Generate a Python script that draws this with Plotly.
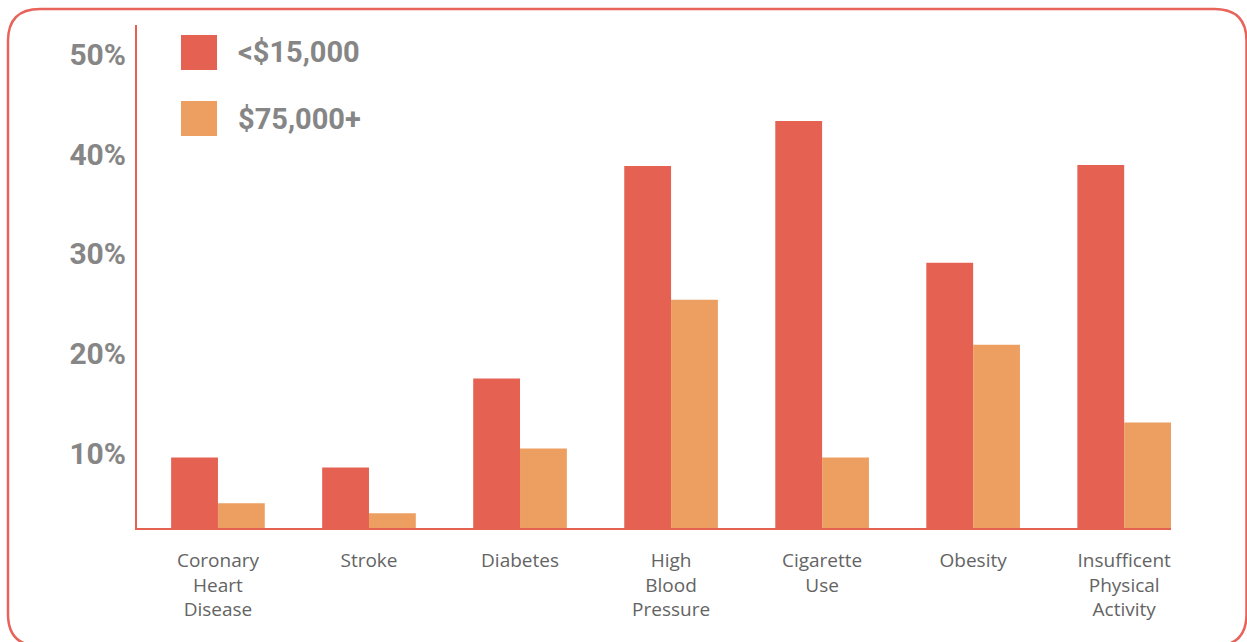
import plotly.graph_objects as go

# Share of adults affected, by household income
categories = ["Coronary<br>Heart<br>Disease", "Stroke", "Diabetes", "High<br>Blood<br>Pressure",
              "Cigarette<br>Use", "Obesity", "Insufficent<br>Physical<br>Activity"]
low_income = [9.6, 8.6, 17.5, 38.8, 43.3, 29.1, 38.9]
high_income = [5.0, 4.0, 10.5, 25.4, 9.6, 20.9, 13.1]
series_names = ["<$15,000", "$75,000+"]
tick_values = [10, 20, 30, 40, 50]
tick_labels = ["10%", "20%", "30%", "40%", "50%"]

RED = "#E56252"
ORANGE = "#EC9F60"
GREY = "#868686"
LABEL_GREY = "#646464"

W, H = 1247, 642
L, R, T, B = 137, 76, 25, 114
PW, PH = W - L - R, H - T - B


def px(x):
    return (x - L) / PW


def py(y):
    return (H - B - y) / PH


fig = go.Figure()
fig.add_trace(go.Bar(x=list(range(len(categories))), y=low_income, name=series_names[0],
                     marker=dict(color=RED, line=dict(width=0)), showlegend=False))
fig.add_trace(go.Bar(x=list(range(len(categories))), y=high_income, name=series_names[1],
                     marker=dict(color=ORANGE, line=dict(width=0)), showlegend=False))

# Rounded frame around the whole graphic
x0, x1, y0, y1, r = px(8), px(1246.5), py(9), py(646), 32
rx, ry = r / PW, r / PH
frame = (f"M {x0 + rx} {y0} L {x1 - rx} {y0} Q {x1} {y0} {x1} {y0 - ry} "
         f"L {x1} {y1 + ry} Q {x1} {y1} {x1 - rx} {y1} "
         f"L {x0 + rx} {y1} Q {x0} {y1} {x0} {y1 + ry} "
         f"L {x0} {y0 - ry} Q {x0} {y0} {x0 + rx} {y0} Z")
shapes = [dict(type="path", xref="paper", yref="paper", path=frame,
               line=dict(color="#E8645A", width=2.5), layer="above")]

# Legend swatches and labels
annotations = []
for i, (name, color) in enumerate(zip(series_names, [RED, ORANGE])):
    top = 35 + i * 66
    shapes.append(dict(type="rect", xref="paper", yref="paper",
                       x0=px(181), x1=px(217), y0=py(top), y1=py(top + 35),
                       fillcolor=color, line=dict(width=0)))
    annotations.append(dict(xref="paper", yref="paper", x=px(236), y=py(top + 17.5),
                            text=name, showarrow=False, xanchor="left", yanchor="middle",
                            font=dict(family="Roboto", size=29, color=GREY, weight="bold")))

fig.update_layout(
    width=W, height=H,
    margin=dict(l=L, r=R, t=T, b=B, autoexpand=False),
    paper_bgcolor="white", plot_bgcolor="white",
    barmode="group", bargap=0.38, bargroupgap=0,
    shapes=shapes, annotations=annotations,
    xaxis=dict(range=[-0.536, 6.31], tickvals=list(range(len(categories))), ticktext=categories,
               showline=True, linecolor=RED, linewidth=2, layer="below traces",
               showgrid=False, zeroline=False, ticks="", ticklabelstandoff=14,
               tickfont=dict(family="Open Sans", size=19, color=LABEL_GREY)),
    yaxis=dict(range=[2.53, 52.93], tickvals=tick_values, ticktext=tick_labels,
               showline=True, linecolor=RED, linewidth=2, layer="below traces",
               showgrid=False, zeroline=False, ticks="", ticklabelstandoff=3,
               tickfont=dict(family="Roboto", size=30, color=GREY, weight="bold")),
)

fig.write_html("out.html")
